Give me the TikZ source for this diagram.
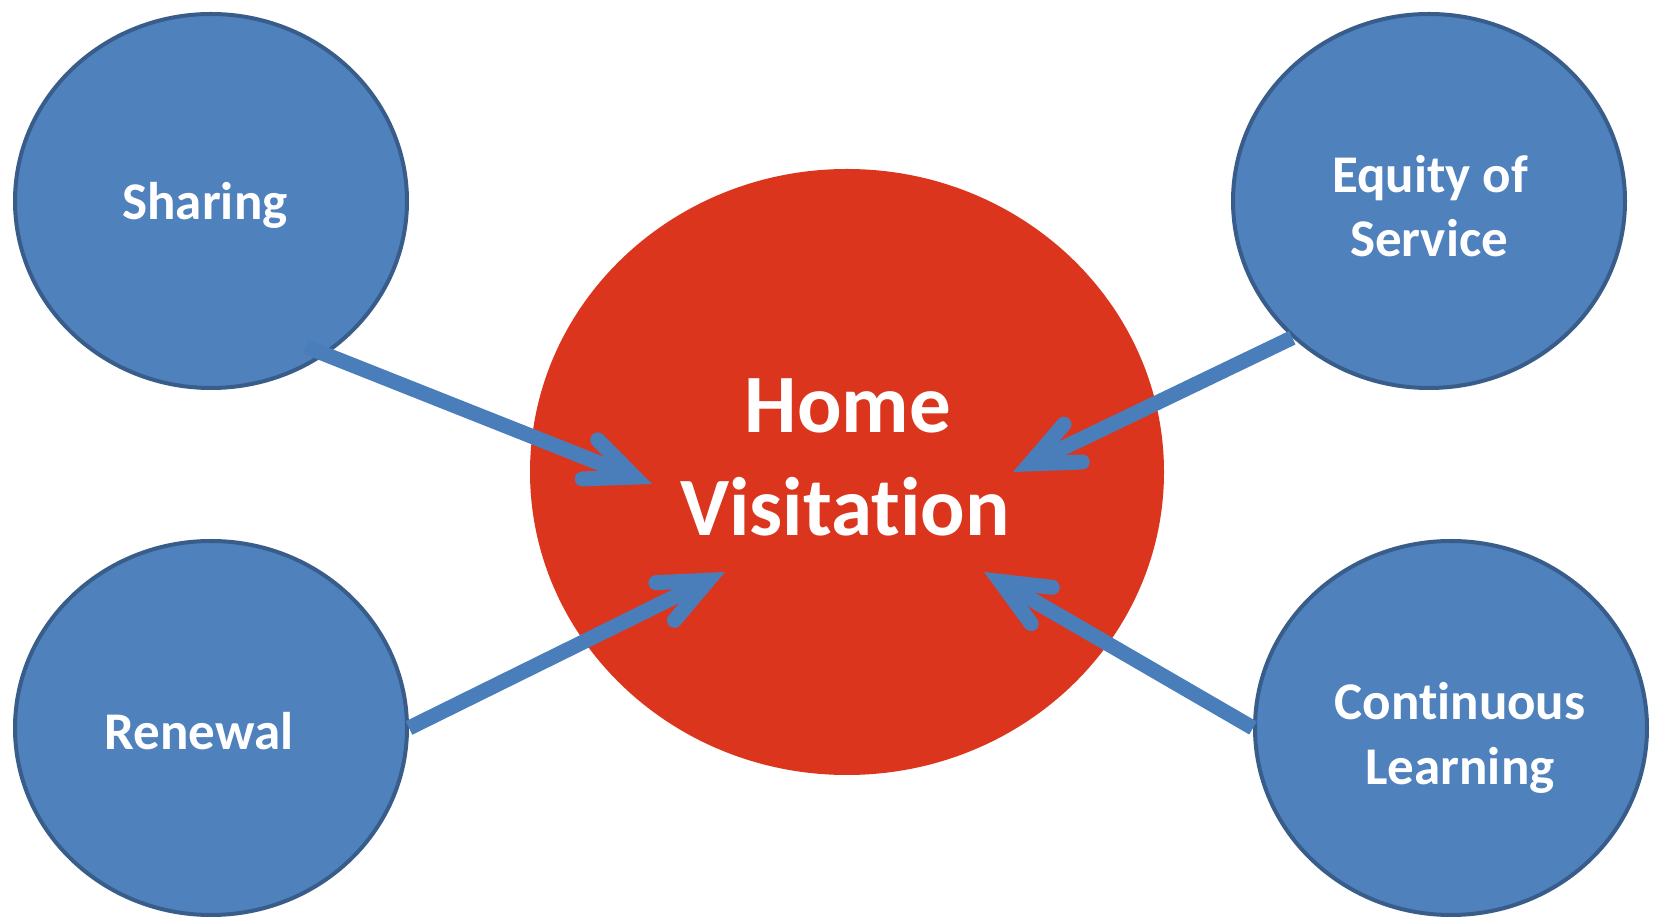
\documentclass[tikz,border=0pt]{standalone}
\usepackage{fontspec}
\setmainfont{Carlito}[Ligatures=NoCommon]
\usetikzlibrary{shapes.geometric,arrows.meta,calc}

\begin{document}
\begin{tikzpicture}[x=1pt,y=1pt,
  bubble/.style={ellipse,draw=borderColor,line width=4pt,fill=bubbleColor,inner sep=0pt,minimum width=392pt,minimum height=374pt},
  hub/.style={ellipse,fill=hubColor,inner sep=0pt,minimum width=634pt,minimum height=606pt},
  smalltext/.style={text=white,anchor=base,inner sep=0pt,outer sep=0pt,font=\bfseries\fontsize{53}{64}\selectfont},
  bigtext/.style={text=white,anchor=base,inner sep=0pt,outer sep=0pt,font=\bfseries\fontsize{83}{100}\selectfont},
  feed/.style={draw=arrowColor,line width=15pt,-{Straight Barb[length=48pt,width=42pt,line join=miter,line cap=round]}}]
\definecolor{fillColor}{RGB}{255,255,255}
\definecolor{bubbleColor}{RGB}{79,129,189}
\definecolor{borderColor}{RGB}{56,93,138}
\definecolor{hubColor}{RGB}{220,53,29}
\definecolor{arrowColor}{RGB}{74,126,187}
\path[use as bounding box,fill=fillColor] (0,0) rectangle (1655,918);

% circles
\node[bubble] (sharing) at (211,717) {};
\node[bubble] (equity) at (1429,717) {};
\node[bubble] (renewal) at (211,190) {};
\node[bubble] (continuous) at (1451,190) {};
\node[hub] (home) at (847,446) {};

% arrow tips inside the hub
\coordinate (tipsharing) at (652,434);
\coordinate (tipequity) at (1013,446);
\coordinate (tiprenewal) at (725,346);
\coordinate (tipcontinuous) at (984,346);

\draw[feed] ($(sharing.-57)!18pt!(sharing.center)$) -- (tipsharing);
\draw[feed] (equity.-135) -- (tipequity);
\draw[feed] (renewal.east) -- (tiprenewal);
\draw[feed] (continuous.west) -- (tipcontinuous);

% labels
\node[smalltext] (sharinglabel) at (205,698.5) {Sharing};
\node[smalltext] (equitylabel) at (1430,725) {Equity of};
\node[smalltext] (servicelabel) at (1429,661.5) {Service};
\node[smalltext] (renewallabel) at (199,168.5) {Renewal};
\node[smalltext] (continuouslabel) at (1460,198) {Continuous};
\node[smalltext] (learninglabel) at (1460,133) {Learning};
\node[bigtext] (homelabel) at (848,485) {Home};
\node[bigtext] (visitationlabel) at (845,382) {Visitation};
\end{tikzpicture}
\end{document}
